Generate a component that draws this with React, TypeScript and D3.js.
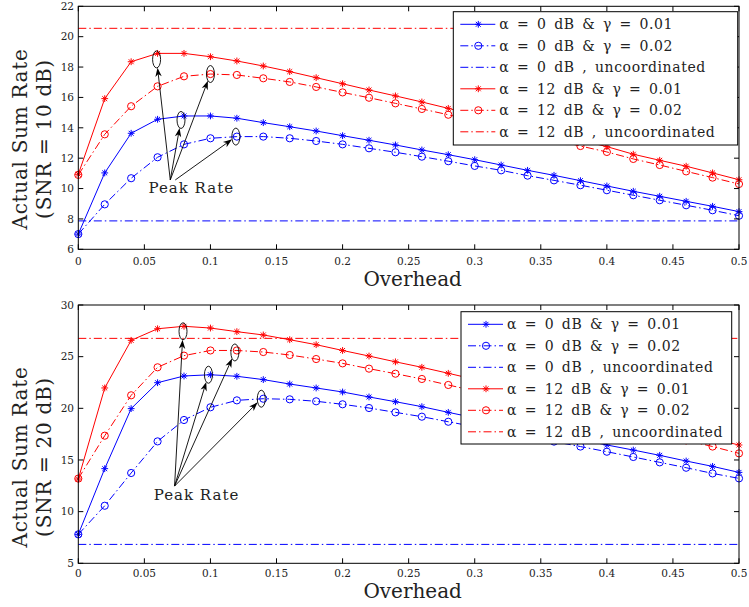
import React from 'react';
import * as d3 from 'd3';

const overhead = [0, 0.02, 0.04, 0.06, 0.08, 0.1, 0.12, 0.14, 0.16, 0.18, 0.2, 0.22, 0.24, 0.26, 0.28, 0.3, 0.32, 0.34, 0.36, 0.38, 0.4, 0.42, 0.44, 0.46, 0.48, 0.5];

// SNR = 10 dB
const top_a0_g001 = [7.0, 11.03, 13.64, 14.56, 14.78, 14.78, 14.63, 14.34, 14.07, 13.79, 13.48, 13.18, 12.87, 12.54, 12.23, 11.9, 11.55, 11.2, 10.87, 10.52, 10.17, 9.82, 9.49, 9.16, 8.83, 8.48];
const top_a0_g002 = [7.0, 8.96, 10.68, 12.06, 12.91, 13.31, 13.42, 13.42, 13.31, 13.13, 12.91, 12.65, 12.39, 12.1, 11.8, 11.49, 11.2, 10.85, 10.54, 10.22, 9.89, 9.56, 9.23, 8.9, 8.57, 8.21];
const top_a0_unc = 7.87;
const top_a12_g001 = [10.94, 15.92, 18.35, 18.9, 18.9, 18.68, 18.4, 18.07, 17.7, 17.3, 16.9, 16.49, 16.1, 15.7, 15.28, 14.85, 14.43, 14.0, 13.6, 13.18, 12.76, 12.26, 11.86, 11.47, 11.03, 10.58];
const top_a12_g002 = [10.9, 13.57, 15.42, 16.73, 17.39, 17.54, 17.48, 17.26, 17.02, 16.69, 16.33, 15.98, 15.61, 15.24, 14.86, 14.45, 14.04, 13.63, 13.22, 12.8, 12.41, 11.95, 11.55, 11.13, 10.72, 10.3];
const top_a12_unc = 20.55;

// SNR = 20 dB
const bot_a0_g001 = [7.8, 14.16, 19.97, 22.48, 23.13, 23.25, 23.1, 22.78, 22.35, 21.97, 21.58, 21.1, 20.64, 20.16, 19.61, 19.08, 18.55, 18.0, 17.5, 16.97, 16.45, 15.96, 15.45, 14.9, 14.38, 13.8];
const bot_a0_g002 = [7.8, 10.57, 13.74, 16.8, 18.87, 20.1, 20.77, 20.93, 20.87, 20.68, 20.39, 20.03, 19.61, 19.19, 18.7, 18.22, 17.74, 17.26, 16.78, 16.3, 15.8, 15.29, 14.77, 14.25, 13.7, 13.22];
const bot_a0_unc = 6.83;
const bot_a12_g001 = [13.16, 21.97, 26.58, 27.7, 27.94, 27.77, 27.42, 27.1, 26.64, 26.16, 25.6, 25.06, 24.5, 23.97, 23.39, 22.8, 22.2, 21.55, 20.9, 20.3, 19.65, 19.0, 18.4, 17.7, 17.05, 16.45];
const bot_a12_g002 = [13.2, 17.35, 21.26, 23.97, 25.1, 25.6, 25.6, 25.45, 25.16, 24.77, 24.35, 23.84, 23.35, 22.84, 22.26, 21.68, 21.1, 20.5, 19.9, 19.3, 18.7, 18.1, 17.5, 16.9, 16.3, 15.64];
const bot_a12_unc = 26.77;

const xTicks = [0, 0.05, 0.1, 0.15, 0.2, 0.25, 0.3, 0.35, 0.4, 0.45, 0.5];
const xTickLabels = ['0', '0.05', '0.1', '0.15', '0.2', '0.25', '0.3', '0.35', '0.4', '0.45', '0.5'];
const topYTicks = [6, 8, 10, 12, 14, 16, 18, 20, 22];
const botYTicks = [5, 10, 15, 20, 25, 30];
const legendLabels = [
  'α = 0 dB & γ = 0.01',
  'α = 0 dB & γ = 0.02',
  'α = 0 dB , uncoordinated',
  'α = 12 dB & γ = 0.01',
  'α = 12 dB & γ = 0.02',
  'α = 12 dB , uncoordinated',
];
const xLabel = 'Overhead';
const yLabel1 = 'Actual Sum Rate';
const topYLabel2 = '(SNR = 10 dB)';
const botYLabel2 = '(SNR = 20 dB)';
const peakLabel = 'Peak Rate';
// peaks pointed at: [series index, overhead]
const topPeaks: [number, number][] = [[3, 0.06], [0, 0.08], [4, 0.1], [1, 0.12]];
const botPeaks: [number, number][] = [[3, 0.08], [0, 0.1], [4, 0.12], [1, 0.14]];

const W = 749, H = 607;
const BLUE = '#0000ff', RED = '#ff0000';
const DASHDOT = '8,3,1.5,3';
const FONT = 'DejaVu Serif, serif';
const X0 = 78.3, X1 = 739;

type Style = { color: string; marker: 'star' | 'circle' | null; dash: string | null };
const styles: Style[] = [
  { color: BLUE, marker: 'star', dash: null },
  { color: BLUE, marker: 'circle', dash: DASHDOT },
  { color: BLUE, marker: null, dash: DASHDOT },
  { color: RED, marker: 'star', dash: null },
  { color: RED, marker: 'circle', dash: DASHDOT },
  { color: RED, marker: null, dash: DASHDOT },
];

function Marker({ kind, x, y, color }: { kind: 'star' | 'circle' | null; x: number; y: number; color: string }) {
  if (kind === 'circle') return <circle cx={x} cy={y} r={3.6} fill="none" stroke={color} strokeWidth={1} />;
  if (kind === 'star') {
    const s = 3.4, d = s * 0.72;
    return (
      <path
        d={`M${x - s},${y}H${x + s}M${x},${y - s}V${y + s}M${x - d},${y - d}L${x + d},${y + d}M${x - d},${y + d}L${x + d},${y - d}`}
        stroke={color}
        strokeWidth={1}
      />
    );
  }
  return null;
}

type PanelProps = {
  yTop: number;
  yBot: number;
  yDomain: [number, number];
  yTicks: number[];
  series: number[][];
  unc: [number, number];
  yLabel2: string;
  legend: { x0: number; y0: number; x1: number; y1: number; row0: number; step: number };
  peaks: [number, number][];
  peakOffsets: [number, number][];
  labelAt: [number, number];
  tails: [number, number][];
  xTickY: number;
  xLabelY: number;
  yLabelCenter: number;
};

function Panel(p: PanelProps) {
  const x = d3.scaleLinear().domain([0, 0.5]).range([X0, X1]);
  const y = d3.scaleLinear().domain(p.yDomain).range([p.yBot, p.yTop]);
  const line = d3.line<number>().x((_, i) => x(overhead[i])).y((v) => y(v));
  const allSeries: (number[] | number)[] = [p.series[0], p.series[1], p.unc[0], p.series[2], p.series[3], p.unc[1]];
  const tick = 5;
  const lg = p.legend;
  const lx = x(p.labelAt[0]);
  const ly = y(p.labelAt[1]);

  return (
    <g>
      {allSeries.map((s, si) => {
        const st = styles[si];
        if (typeof s === 'number') {
          return (
            <line key={si} x1={x(0)} x2={x(0.5)} y1={y(s)} y2={y(s)} stroke={st.color} strokeWidth={1}
              strokeDasharray={st.dash || undefined} />
          );
        }
        return (
          <g key={si}>
            <path d={line(s) || ''} fill="none" stroke={st.color} strokeWidth={1} strokeDasharray={st.dash || undefined} />
            {s.map((v, i) => <Marker key={i} kind={st.marker} x={x(overhead[i])} y={y(v)} color={st.color} />)}
          </g>
        );
      })}
      {p.peaks.map(([si, ov], k) => {
        const s = allSeries[si] as number[];
        const idx = overhead.findIndex((o) => Math.abs(o - ov) < 1e-9);
        const cx = x(ov) + p.peakOffsets[k][0];
        const cy = y(s[idx]) + p.peakOffsets[k][1];
        const rx = 4, ry = 8.5;
        const tx = lx + p.tails[k][0], ty = ly + p.tails[k][1];
        const dx = tx - cx, dy = ty - cy;
        const t = 1 / Math.sqrt((dx / rx) ** 2 + (dy / ry) ** 2);
        const hx = cx + dx * t, hy = cy + dy * t;
        const len = Math.hypot(hx - tx, hy - ty);
        const ux = (hx - tx) / len, uy = (hy - ty) / len;
        const nx = -uy, ny = ux;
        const L = 9, Wd = 3.2;
        const bx = hx - ux * L, by = hy - uy * L;
        const head = `M${hx},${hy}L${bx + nx * Wd},${by + ny * Wd}L${hx - ux * 6.5},${hy - uy * 6.5}L${bx - nx * Wd},${by - ny * Wd}Z`;
        return (
          <g key={'a' + k}>
            <ellipse cx={cx} cy={cy} rx={rx} ry={ry} fill="none" stroke="#000" strokeWidth={0.9} />
            <line x1={tx} y1={ty} x2={hx - ux * 5} y2={hy - uy * 5} stroke="#000" strokeWidth={0.9} />
            <path d={head} fill="#000" />
          </g>
        );
      })}
      <text x={lx} y={ly} textAnchor="middle" fontFamily={FONT} fontSize={15} letterSpacing={1} fill="#222">{peakLabel}</text>
      <rect x={X0} y={p.yTop} width={X1 - X0} height={p.yBot - p.yTop} fill="none" stroke="#000" strokeWidth={1} />
      {xTicks.map((v, i) => (
        <g key={'xt' + i}>
          <line x1={x(v)} x2={x(v)} y1={p.yBot} y2={p.yBot - tick} stroke="#000" />
          <line x1={x(v)} x2={x(v)} y1={p.yTop} y2={p.yTop + tick} stroke="#000" />
          <text x={x(v)} y={p.xTickY} textAnchor="middle" fontFamily={FONT} fontSize={10.5} fill="#222">{xTickLabels[i]}</text>
        </g>
      ))}
      {p.yTicks.map((v, i) => (
        <g key={'yt' + i}>
          <line x1={X0} x2={X0 + tick} y1={y(v)} y2={y(v)} stroke="#000" />
          <line x1={X1} x2={X1 - tick} y1={y(v)} y2={y(v)} stroke="#000" />
          <text x={74} y={y(v)} dy="0.36em" textAnchor="end" fontFamily={FONT} fontSize={10.5} fill="#222">{v}</text>
        </g>
      ))}
      <text x={(X0 + X1) / 2 + 4} y={p.xLabelY} textAnchor="middle" fontFamily={FONT} fontSize={20} fill="#222">{xLabel}</text>
      <text transform={`translate(27,${p.yLabelCenter}) rotate(-90)`} textAnchor="middle" fontFamily={FONT} fontSize={20} letterSpacing={0.7} fill="#222">{yLabel1}</text>
      <text transform={`translate(51,${p.yLabelCenter}) rotate(-90)`} textAnchor="middle" fontFamily={FONT} fontSize={20} letterSpacing={0.7} fill="#222">{p.yLabel2}</text>
      <rect x={lg.x0} y={lg.y0} width={lg.x1 - lg.x0} height={lg.y1 - lg.y0} fill="#fff" stroke="#000" strokeWidth={1} />
      {legendLabels.map((lab, i) => {
        const st = styles[i];
        const ry = lg.row0 + i * lg.step;
        return (
          <g key={'lg' + i}>
            <line x1={lg.x0 + 7} x2={lg.x0 + 42} y1={ry} y2={ry} stroke={st.color} strokeWidth={1} strokeDasharray={st.dash || undefined} />
            <Marker kind={st.marker} x={lg.x0 + 25} y={ry} color={st.color} />
            <text x={lg.x0 + 46} y={ry} dy="0.36em" fontFamily={FONT} fontSize={14} letterSpacing={0.6} wordSpacing={2.6} fill="#222">{lab}</text>
          </g>
        );
      })}
    </g>
  );
}

export default function App() {
  return (
    <svg width={W} height={H} viewBox={`0 0 ${W} ${H}`} style={{ position: 'absolute', left: 0, top: 0, background: '#fff' }}>
      <rect width={W} height={H} fill="#fff" />
      <Panel
        yTop={6.3}
        yBot={249.3}
        yDomain={[6, 22]}
        yTicks={topYTicks}
        series={[top_a0_g001, top_a0_g002, top_a12_g001, top_a12_g002]}
        unc={[top_a0_unc, top_a12_unc]}
        yLabel2={topYLabel2}
        legend={{ x0: 453.3, y0: 11.7, x1: 737.7, y1: 145, row0: 24.3, step: 21.5 }}
        peaks={topPeaks}
        peakOffsets={[[-1, 6], [-3, 4], [0, 0], [-1, 0]]}
        labelAt={[0.0855, 9.71]}
        tails={[[-21, -13], [-21, -13], [-21, -13], [-16, -13]]}
        xTickY={265}
        xLabelY={285.5}
        yLabelCenter={139}
      />
      <Panel
        yTop={305}
        yBot={563.3}
        yDomain={[5, 30]}
        yTicks={botYTicks}
        series={[bot_a0_g001, bot_a0_g002, bot_a12_g001, bot_a12_g002]}
        unc={[bot_a0_unc, bot_a12_unc]}
        yLabel2={botYLabel2}
        legend={{ x0: 461, y0: 311.7, x1: 731.7, y1: 444, row0: 324.3, step: 21.5 }}
        peaks={botPeaks}
        peakOffsets={[[-1, 5], [-2, 0], [-2, 2], [-2, 0]]}
        labelAt={[0.0895, 11.12]}
        tails={[[-22, -14], [-22, -14], [-22, -14], [-22, -14]]}
        xTickY={577}
        xLabelY={598}
        yLabelCenter={457}
      />
    </svg>
  );
}
